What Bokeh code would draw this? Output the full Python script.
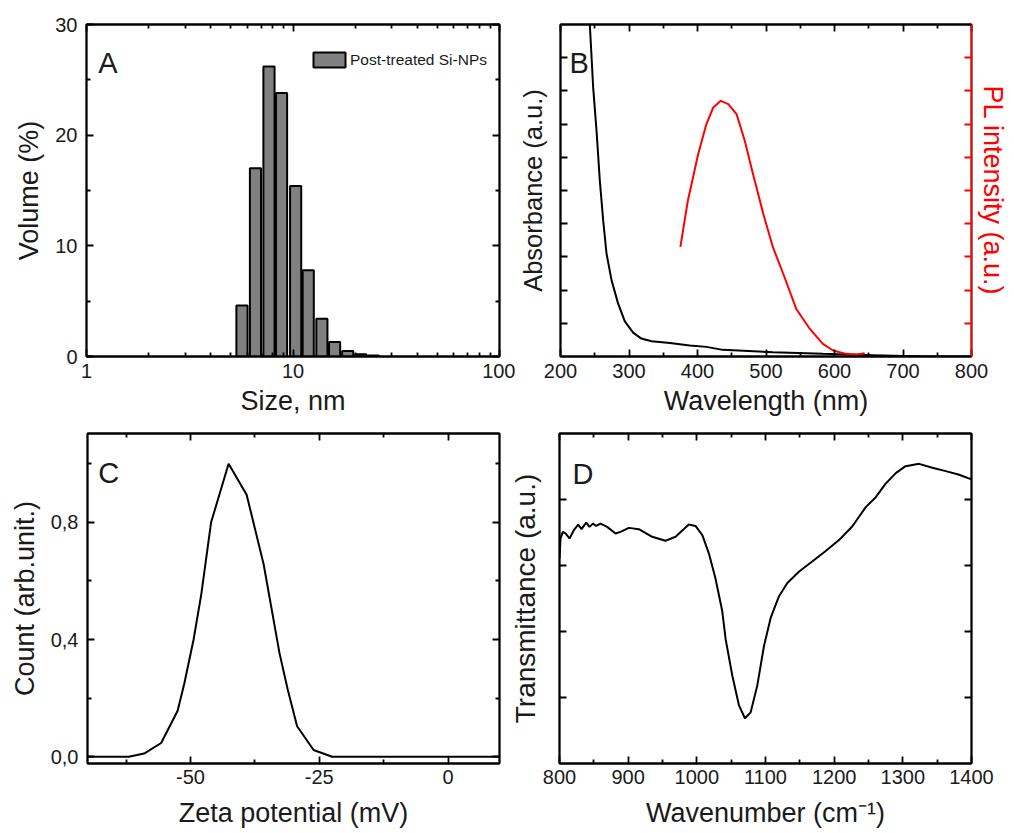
from bokeh.plotting import figure
from bokeh.layouts import column, row
from bokeh.models import (LinearAxis, LogAxis, FixedTicker, CustomJSTickFormatter,
                          Range1d, Label)
from bokeh.embed import file_html
from bokeh.resources import INLINE

# ---------------- data ----------------
# A: size distribution (DLS, volume %)
size_nm = [5.66, 6.58, 7.65, 8.80, 10.3, 11.85, 13.8, 15.9, 18.4, 21.3, 24.5]
volume_pct = [4.6, 17.0, 26.2, 23.8, 15.4, 7.8, 3.4, 1.3, 0.5, 0.2, 0.1]
a_xticks = [1, 10, 100]
a_xminor = [2, 3, 4, 5, 6, 7, 8, 9, 20, 30, 40, 50, 60, 70, 80, 90]
a_yticks = [0, 10, 20, 30]
a_yminor = [5, 15, 25]

# B: absorbance and PL
abs_wl = [242.8, 247.7, 252.6, 257.4, 262.3, 267.2, 274.5, 284, 293.9, 306, 318, 333,
          359.6, 388.8, 413, 437, 510, 583, 656, 734, 800]
abs_val = [1.0, 0.81, 0.68, 0.53, 0.41, 0.31, 0.23, 0.16, 0.106, 0.072, 0.054, 0.046,
           0.041, 0.033, 0.029, 0.020, 0.013, 0.008, 0.004, 0.0, 0.0]
pl_wl = [375, 386, 401, 413, 423, 434, 445, 457, 469, 481, 496, 510, 525, 544, 564,
         583, 598, 617, 632, 644]
pl_val = [0.33, 0.47, 0.61, 0.70, 0.75, 0.77, 0.76, 0.73, 0.65, 0.55, 0.43, 0.33, 0.25,
          0.144, 0.083, 0.038, 0.018, 0.008, 0.006, 0.01]
b_xticks = [200, 300, 400, 500, 600, 700, 800]
b_xminor = [250, 350, 450, 550, 650, 750]
b_yticks = [0.1, 0.2, 0.3, 0.4, 0.5, 0.6, 0.7, 0.8, 0.9]

# C: zeta potential
zeta_mv = [-70, -62, -59, -55.7, -52.5, -51.2, -49.4, -47.9, -46.0, -42.6, -39.1, -35.8,
           -32.7, -31.1, -29.3, -26.1, -22.5, 10]
zeta_count = [0, 0, 0.011, 0.047, 0.157, 0.25, 0.40, 0.555, 0.80, 1.0, 0.894, 0.657,
              0.352, 0.228, 0.104, 0.023, 0, 0]
c_xticks = [-50, -25, 0]
c_xminor = [-62.5, -37.5, -12.5]
c_yticks = [0.0, 0.4, 0.8]
c_yminor = [0.2, 0.6, 1.0]

# D: FTIR transmittance
ftir_wn = [800, 801.5, 804.9, 808.7, 814.6, 820.9, 827.2, 832, 838.9, 843.7, 848.6, 853.4,
           859.7, 869.4, 881.6, 888.8, 901, 915.5, 935, 954.4, 969, 988.3, 998, 1008,
           1017.5, 1027, 1037, 1042, 1051.7, 1061.4, 1070, 1078.4, 1088, 1097.8, 1107.5,
           1119.7, 1131.8, 1149, 1168, 1187.7, 1207, 1226.6, 1246, 1260.6, 1275, 1289.7,
           1304, 1323.7, 1343, 1362.6, 1382, 1400]
ftir_t = [0.622, 0.682, 0.702, 0.697, 0.682, 0.707, 0.724, 0.710, 0.730, 0.717, 0.727, 0.720,
          0.727, 0.717, 0.697, 0.702, 0.714, 0.710, 0.687, 0.675, 0.687, 0.724, 0.720, 0.692,
          0.637, 0.562, 0.462, 0.376, 0.266, 0.176, 0.137, 0.155, 0.236, 0.356, 0.441,
          0.507, 0.547, 0.582, 0.612, 0.644, 0.677, 0.719, 0.777, 0.807, 0.848, 0.880,
          0.901, 0.908, 0.896, 0.886, 0.875, 0.861]
d_xticks = [800, 900, 1000, 1100, 1200, 1300, 1400]
d_xminor = [850, 950, 1050, 1150, 1250, 1350]
d_yticks = [0.2, 0.4, 0.6, 0.8]

# ---------------- style ----------------
TICK_FONT = "Liberation Sans"
TITLE_FONT = "Liberation Sans"
TXT = "#1a1a1a"


def style_axis(ax, color="black", labels=True):
    ax.major_tick_in = 7
    ax.major_tick_out = 0
    ax.minor_tick_in = 4
    ax.minor_tick_out = 0
    ax.axis_line_width = 1.8
    ax.major_tick_line_width = 1.8
    ax.minor_tick_line_width = 1.8
    ax.axis_line_color = color
    ax.major_tick_line_color = color
    ax.minor_tick_line_color = color
    ax.major_label_text_font = TICK_FONT
    ax.major_label_text_font_size = "20px"
    ax.major_label_text_color = TXT
    ax.axis_label_text_font = TITLE_FONT
    ax.axis_label_text_font_size = "27px"
    ax.axis_label_text_font_style = "normal"
    ax.axis_label_text_color = TXT if color == "black" else color
    if not labels:
        ax.formatter = CustomJSTickFormatter(code="return ''")
        ax.major_label_standoff = 0


def add_axis(p, cls, side, ticks, minor, label=None, labels=True, color="black",
             fmt=None, y_range_name=None, label_standoff=None, major_standoff=None,
             label_size=None):
    kw = {}
    if y_range_name:
        kw["y_range_name"] = y_range_name
    ax = cls(ticker=FixedTicker(ticks=ticks, minor_ticks=minor), **kw)
    style_axis(ax, color=color, labels=labels)
    if labels:
        ax.formatter = fmt if fmt is not None else CustomJSTickFormatter(code="return String(tick)")
    if label:
        ax.axis_label = label
    if label_standoff is not None:
        ax.axis_label_standoff = label_standoff
    if major_standoff is not None:
        ax.major_label_standoff = major_standoff
    if label_size is not None:
        ax.axis_label_text_font_size = label_size
    p.add_layout(ax, side)
    return ax


def make_fig(w, h, xr, yr, bl, br, bt, bb, xlog=False):
    p = figure(width=w, height=h, x_range=xr, y_range=yr,
               x_axis_type="log" if xlog else "linear",
               x_axis_location=None, y_axis_location=None,
               output_backend="svg", toolbar_location=None,
               min_border_left=bl, min_border_right=br,
               min_border_top=bt, min_border_bottom=bb)
    p.grid.visible = False
    p.outline_line_color = "black"
    p.outline_line_width = 1.8
    p.background_fill_color = "white"
    p.border_fill_color = "white"
    return p


def panel_letter(p, x, y, text):
    p.add_layout(Label(x=x, y=y, text=text, text_font=TITLE_FONT,
                       text_font_size="29px", text_color=TXT,
                       text_align="left", text_baseline="alphabetic"))


# ---------------- panel A ----------------
pa = make_fig(515, 418, Range1d(1, 100), Range1d(0, 30), 86, 16, 24, 62, xlog=True)
hw = 10 ** 0.027
pa.quad(left=[s / hw for s in size_nm], right=[s * hw for s in size_nm],
        bottom=0, top=volume_pct, fill_color="#808080", line_color="black",
        line_width=2, legend_label="Post-treated Si-NPs")
add_axis(pa, LogAxis, "below", a_xticks, a_xminor, label="Size, nm",
         major_standoff=7, label_standoff=5)
add_axis(pa, LogAxis, "above", a_xticks, a_xminor, labels=False)
add_axis(pa, LinearAxis, "left", a_yticks, a_yminor, label="Volume (%)",
         major_standoff=9, label_standoff=8)
add_axis(pa, LinearAxis, "right", a_yticks, a_yminor, labels=False)
lg = pa.legend[0]
lg.location = (223, 287)
lg.border_line_color = None
lg.background_fill_alpha = 0
lg.padding = 0
lg.margin = 0
lg.glyph_width = 40
lg.glyph_height = 19
lg.label_standoff = 1
lg.label_text_font = TICK_FONT
lg.label_text_font_size = "15.5px"
lg.label_text_color = TXT
panel_letter(pa, 1.14, 26.5, "A")

# ---------------- panel B ----------------
pb = make_fig(497, 418, Range1d(200, 800), Range1d(0, 1), 44, 41, 24, 62)
pb.extra_y_ranges = {"pl": Range1d(0, 1)}
pb.line(abs_wl, abs_val, line_color="black", line_width=2)
pb.line(pl_wl, pl_val, line_color="#ff0000", line_width=2, y_range_name="pl")
add_axis(pb, LinearAxis, "below", b_xticks, b_xminor, label="Wavelength (nm)",
         major_standoff=7, label_standoff=5)
add_axis(pb, LinearAxis, "above", b_xticks, b_xminor, labels=False)
add_axis(pb, LinearAxis, "left", b_yticks, [], label="Absorbance (a.u.)",
         labels=False, label_standoff=14, label_size="25.5px")
add_axis(pb, LinearAxis, "right", b_yticks, [], label="PL intensity (a.u.)",
         labels=False, color="#ff0000", y_range_name="pl", label_standoff=6)
panel_letter(pb, 213, 0.883, "B")

# ---------------- panel C ----------------
pc = make_fig(505, 415, Range1d(-70, 10), Range1d(-0.023, 1.103), 87, 6, 15, 70)
pc.line(zeta_mv, zeta_count, line_color="black", line_width=2)
comma_fmt = CustomJSTickFormatter(code="return tick.toFixed(1).replace('.', ',')")
add_axis(pc, LinearAxis, "below", c_xticks, c_xminor, label="Zeta potential (mV)",
         major_standoff=6, label_standoff=11)
add_axis(pc, LinearAxis, "above", c_xticks, c_xminor, labels=False)
add_axis(pc, LinearAxis, "left", c_yticks, c_yminor, label="Count (arb.unit.)",
         fmt=comma_fmt, major_standoff=9, label_standoff=8)
add_axis(pc, LinearAxis, "right", c_yticks, c_yminor, labels=False)
panel_letter(pc, -67.9, 0.968, "C")

# ---------------- panel D ----------------
pd_ = make_fig(507, 415, Range1d(800, 1400), Range1d(0, 1), 54, 41, 15, 70)
pd_.line(ftir_wn, ftir_t, line_color="black", line_width=2)
add_axis(pd_, LinearAxis, "below", d_xticks, d_xminor, label="Wavenumber (cm\u207b\u00b9)",
         major_standoff=6, label_standoff=11)
add_axis(pd_, LinearAxis, "above", d_xticks, d_xminor, labels=False)
add_axis(pd_, LinearAxis, "left", d_yticks, [], label="Transmittance (a.u.)",
         labels=False, label_standoff=19, label_size="28px")
add_axis(pd_, LinearAxis, "right", d_yticks, [], labels=False)
panel_letter(pd_, 819, 0.877, "D")

layout = column(row(pa, pb), row(pc, pd_))
open("out.html", "w").write(file_html(layout, INLINE))
